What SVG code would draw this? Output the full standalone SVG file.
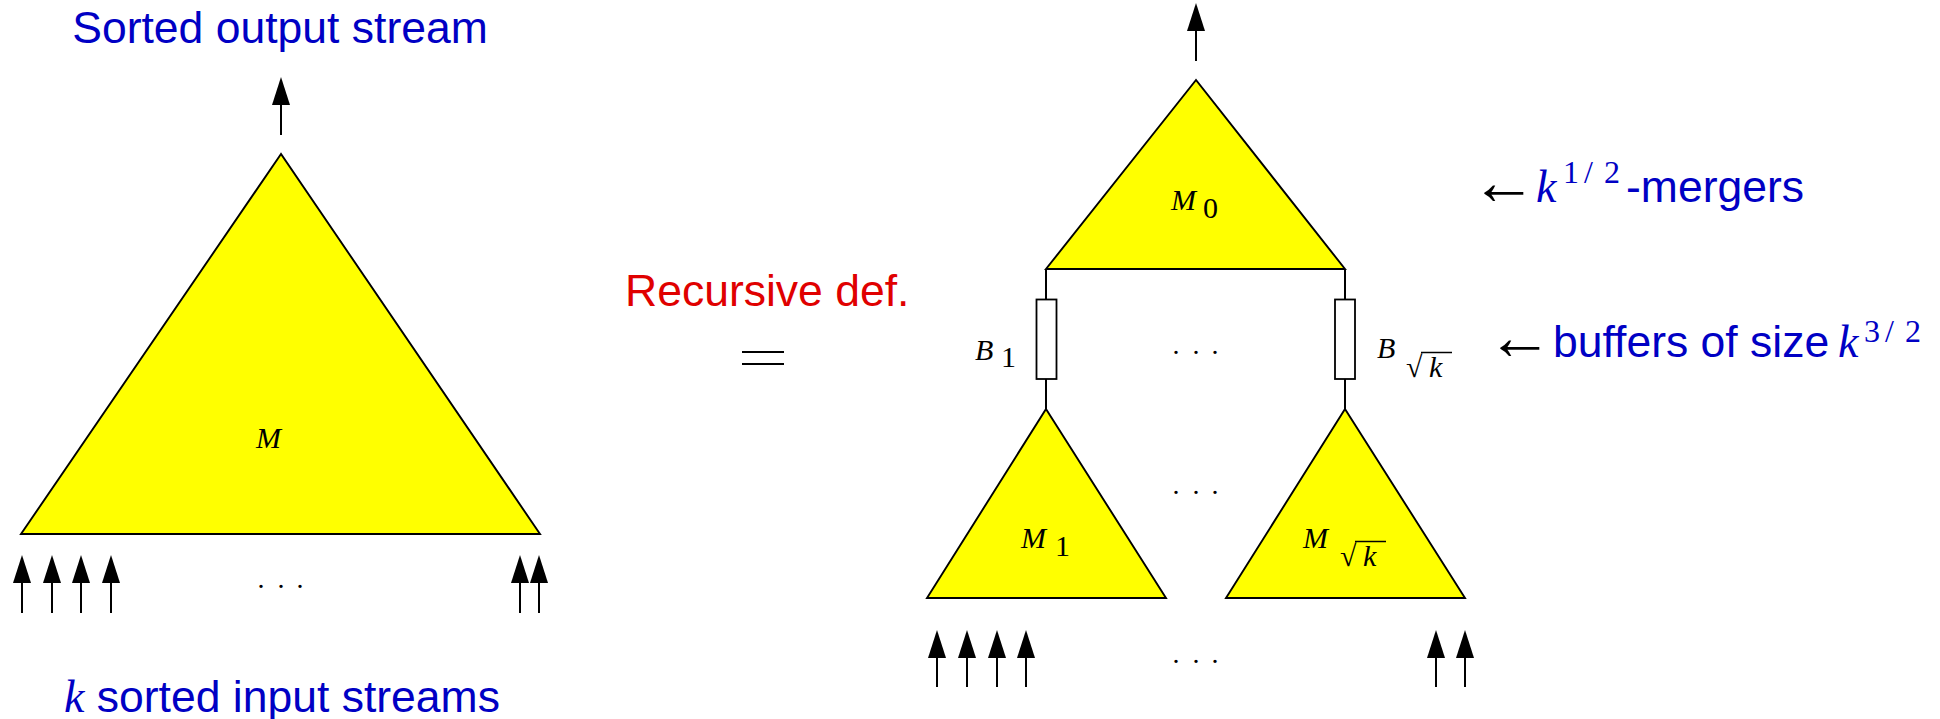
<svg xmlns="http://www.w3.org/2000/svg" width="1940" height="719" viewBox="0 0 1940 719">
<style>
.tri{fill:#ffff00;stroke:#000;stroke-width:1.9;stroke-linejoin:miter}
.buf{fill:#fff;stroke:#000;stroke-width:1.8}
.ln{stroke:#000;stroke-width:2;fill:none}
.arr{stroke:#000;stroke-width:2;fill:none;marker-end:url(#ah)}
.sans{font-family:"Liberation Sans",Arial,sans-serif;font-size:44.5px}
.blue{fill:#0000c4}
.red{fill:#e00000}
.math{font-family:"Liberation Serif","Times New Roman",serif;font-style:italic;font-size:30px;fill:#000}
.up{font-style:normal}
.rad{font-style:normal;font-size:30px}
.dots{font-family:"Liberation Serif","Times New Roman",serif;font-size:28px;fill:#000;text-anchor:middle}
.sym{font-family:"Liberation Serif","Times New Roman",serif;font-size:66px;fill:#000}
.bk{font-family:"Liberation Serif","Times New Roman",serif;font-style:italic;font-size:46px}
.sup{font-family:"Liberation Serif","Times New Roman",serif;font-size:32px;font-style:normal}
.vinc{stroke:#000;stroke-width:1.5}
</style>
<defs>
<marker id="ah" markerUnits="userSpaceOnUse" markerWidth="30" markerHeight="20" viewBox="0 -10 30 20" refX="1" refY="0" orient="auto">
<path d="M0,-9 L28,0 L0,9 z" fill="#000"/>
</marker>
</defs>
<rect width="1940" height="719" fill="#fff"/>

<!-- Left: the k-merger -->
<g id="merger-M">
<polygon class="tri" points="281,154 21,534 540,534"/>
<text class="math" x="256" y="448">M</text>
</g>
<text id="label-output" class="sans blue" x="280" y="43" text-anchor="middle">Sorted output stream</text>
<text id="label-input" class="sans blue" x="64" y="712"><tspan class="bk">k</tspan> sorted input streams</text>
<text id="dots-left" class="dots" x="261 281 300" y="588">...</text>

<!-- Middle -->
<text id="label-recursive" class="sans red" x="625" y="306">Recursive def.</text>
<g id="equals">
<line x1="742" y1="352" x2="784" y2="352" stroke="#000" stroke-width="2.2"/>
<line x1="742" y1="364" x2="784" y2="364" stroke="#000" stroke-width="2.2"/>
</g>

<!-- Right: recursive definition -->
<g id="merger-M0">
<polygon class="tri" points="1196,80 1046,269 1345,269"/>
<text class="math" x="1171" y="210">M<tspan class="up" x="1203" y="218">0</tspan></text>
</g>
<g id="buffer-B1">
<rect class="buf" x="1036.5" y="299.5" width="20" height="79.5"/>
<text class="math" x="975" y="360">B<tspan class="up" x="1001" y="367">1</tspan></text>
</g>
<g id="buffer-Bsqrtk">
<rect class="buf" x="1335" y="299.5" width="20" height="79.5"/>
<text class="math" x="1377" y="358">B<tspan class="rad" x="1406" y="377">√</tspan><tspan x="1429" y="377">k</tspan></text>
<line class="vinc" x1="1421" y1="352.5" x2="1452" y2="352.5"/>
</g>
<g id="merger-M1">
<polygon class="tri" points="1046,409 927,598 1166,598"/>
<text class="math" x="1021" y="548">M<tspan class="up" x="1055" y="556">1</tspan></text>
</g>
<g id="merger-Msqrtk">
<polygon class="tri" points="1345,409 1226,598 1465,598"/>
<text class="math" x="1303" y="548">M<tspan class="rad" x="1340" y="566">√</tspan><tspan x="1363" y="566">k</tspan></text>
<line class="vinc" x1="1355" y1="541.5" x2="1386" y2="541.5"/>
</g>
<text id="dots-buffers" class="dots" x="1176 1196 1215" y="354">...</text>
<text id="dots-mergers" class="dots" x="1176 1196 1215" y="494">...</text>
<text id="dots-inputs" class="dots" x="1176 1196 1215" y="663">...</text>

<text id="label-mergers" y="202"><tspan class="sym" x="1471" y="204">←</tspan><tspan class="bk blue" x="1536" y="202">k</tspan><tspan class="sup blue" x="1563 1584 1604" y="183">1/2</tspan><tspan class="sans blue" x="1626" y="202">-mergers</tspan></text>
<text id="label-buffers" y="357"><tspan class="sym" x="1487" y="359">←</tspan><tspan class="sans blue" x="1553" y="357">buffers of size</tspan><tspan class="bk blue" x="1838" y="357">k</tspan><tspan class="sup blue" x="1864 1885 1905" y="342">3/2</tspan></text>

<!-- Connectors -->
<g id="connectors">
<line class="arr" x1="281" y1="135" x2="281" y2="104"/>
<line class="arr" x1="22" y1="613" x2="22" y2="582"/>
<line class="arr" x1="52" y1="613" x2="52" y2="582"/>
<line class="arr" x1="81" y1="613" x2="81" y2="582"/>
<line class="arr" x1="111" y1="613" x2="111" y2="582"/>
<line class="arr" x1="520" y1="613" x2="520" y2="582"/>
<line class="arr" x1="539" y1="613" x2="539" y2="582"/>

<line class="arr" x1="1196" y1="61" x2="1196" y2="30"/>
<line class="ln" x1="1046" y1="269" x2="1046" y2="299.5"/>
<line class="ln" x1="1046" y1="379" x2="1046" y2="409"/>
<line class="ln" x1="1345" y1="269" x2="1345" y2="299.5"/>
<line class="ln" x1="1345" y1="379" x2="1345" y2="409"/>

<line class="arr" x1="937" y1="687" x2="937" y2="657"/>
<line class="arr" x1="967" y1="687" x2="967" y2="657"/>
<line class="arr" x1="997" y1="687" x2="997" y2="657"/>
<line class="arr" x1="1026" y1="687" x2="1026" y2="657"/>
<line class="arr" x1="1436" y1="687" x2="1436" y2="657"/>
<line class="arr" x1="1465" y1="687" x2="1465" y2="657"/>
</g>
</svg>
